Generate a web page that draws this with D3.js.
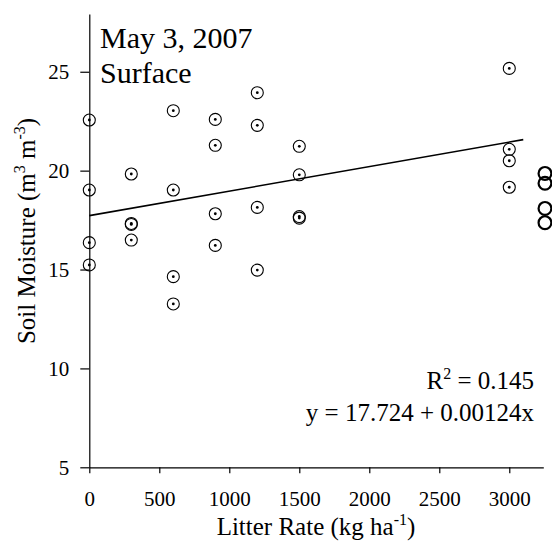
<!DOCTYPE html>
<html>
<head>
<meta charset="utf-8">
<script src="https://cdn.jsdelivr.net/npm/d3@7"></script>
<style>
  html, body { margin: 0; padding: 0; background: #fff; }
  svg { display: block; }
  text { font-family: "Liberation Serif", "Times New Roman", serif; fill: #000; }
</style>
</head>
<body>
<script>
// Soil moisture at the surface, May 3, 2007, by litter application rate
const litterRate = [
  0, 0, 0, 0,
  300, 300, 300, 300,
  600, 600, 600, 600,
  900, 900, 900, 900,
  1200, 1200, 1200, 1200,
  1500, 1500, 1500, 1500,
  3000, 3000, 3000, 3000
];
const soilMoisture = [
  22.56, 19.02, 16.36, 15.23,
  19.83, 17.28, 17.33, 16.49,
  23.03, 19.02, 14.64, 13.26,
  22.59, 21.28, 17.82, 16.22,
  23.94, 22.29, 18.14, 14.97,
  21.23, 19.79, 17.60, 17.68,
  25.17, 21.08, 20.50, 19.16
];

// Separate open-circle markers on the far right
const openRate = [3255, 3255, 3255, 3255];
const openMoisture = [19.86, 19.36, 18.09, 17.37];

// Fitted regression: y = 17.724 + 0.00124x, R^2 = 0.145
const intercept = 17.724;
const slope = 0.00124;
const rSquared = 0.145;
const fitRange = [0, 3100];

const xTicks = [0, 500, 1000, 1500, 2000, 2500, 3000];
const yTicks = [5, 10, 15, 20, 25];

const W = 552, H = 546;
const svg = d3.select("body").append("svg")
  .attr("width", W).attr("height", H);
svg.append("rect").attr("width", W).attr("height", H).attr("fill", "#fff");

const x = d3.scaleLinear().domain([0, 3243]).range([89.3, 543.3]);
const y = d3.scaleLinear().domain([5, 27.92]).range([467.3, 14]);

// Axes
const xAxis = svg.append("g")
  .attr("transform", `translate(0,${y(5)})`)
  .call(d3.axisBottom(x).tickValues(xTicks).tickSize(6).tickSizeOuter(0).tickPadding(18).tickFormat(d3.format("d")));
const yAxis = svg.append("g")
  .attr("transform", `translate(${x(0)},0)`)
  .call(d3.axisLeft(y).tickValues(yTicks).tickSize(9).tickSizeOuter(0).tickPadding(11).tickFormat(d3.format("d")));

[xAxis, yAxis].forEach(g => {
  g.select(".domain").attr("stroke", "#000").attr("stroke-width", 1.2);
  g.selectAll(".tick line").attr("stroke", "#000").attr("stroke-width", 1.2);
  g.selectAll(".tick text")
    .attr("fill", "#000")
    .style("font-family", '"Liberation Serif", serif')
    .style("font-size", "21px");
});

// Regression line
svg.append("line")
  .attr("x1", x(fitRange[0])).attr("y1", y(intercept + slope * fitRange[0]))
  .attr("x2", x(fitRange[1])).attr("y2", y(intercept + slope * fitRange[1]))
  .attr("stroke", "#000").attr("stroke-width", 1.6);

// Dotted-circle markers
const pts = litterRate.map((r, i) => ({ r, m: soilMoisture[i] }));
const mk = svg.append("g");
mk.selectAll("circle.ring").data(pts).join("circle")
  .attr("class", "ring")
  .attr("cx", d => x(d.r)).attr("cy", d => y(d.m)).attr("r", 6)
  .attr("fill", "none").attr("stroke", "#000").attr("stroke-width", 1.1);
mk.selectAll("circle.dot").data(pts).join("circle")
  .attr("class", "dot")
  .attr("cx", d => x(d.r)).attr("cy", d => y(d.m)).attr("r", 1.4)
  .attr("fill", "#000");

// Open circles
const opts = openRate.map((r, i) => ({ r, m: openMoisture[i] }));
svg.append("g").selectAll("circle").data(opts).join("circle")
  .attr("cx", d => x(d.r)).attr("cy", d => y(d.m)).attr("r", 6.4)
  .attr("fill", "none").attr("stroke", "#000").attr("stroke-width", 2.2);

// Title
svg.append("text").attr("x", 100).attr("y", 48)
  .style("font-size", "30px").text("May 3, 2007");
svg.append("text").attr("x", 100).attr("y", 83)
  .style("font-size", "30px").text("Surface");

// Regression annotation
const r2 = svg.append("text").attr("x", 534).attr("y", 389)
  .attr("text-anchor", "end").style("font-size", "25px");
r2.append("tspan").text("R");
r2.append("tspan").attr("dy", -10).style("font-size", "16px").text("2");
r2.append("tspan").attr("dy", 10).text(` = ${rSquared}`);

svg.append("text").attr("x", 534).attr("y", 421)
  .attr("text-anchor", "end").style("font-size", "25px")
  .text(`y = ${intercept} + ${slope}x`);

// Axis titles
const xl = svg.append("text").attr("x", 316).attr("y", 535)
  .attr("text-anchor", "middle").style("font-size", "25px");
xl.append("tspan").text("Litter Rate (kg ha");
xl.append("tspan").attr("dy", -10).style("font-size", "16px").text("-1");
xl.append("tspan").attr("dy", 10).text(")");

const yl = svg.append("text")
  .attr("transform", "translate(35,231) rotate(-90)")
  .attr("text-anchor", "middle").style("font-size", "25px");
yl.append("tspan").text("Soil Moisture (m");
yl.append("tspan").attr("dy", -10).style("font-size", "16px").text("3");
yl.append("tspan").attr("dy", 10).text(" m");
yl.append("tspan").attr("dy", -10).style("font-size", "16px").text("-3");
yl.append("tspan").attr("dy", 10).text(")");
</script>
</body>
</html>
